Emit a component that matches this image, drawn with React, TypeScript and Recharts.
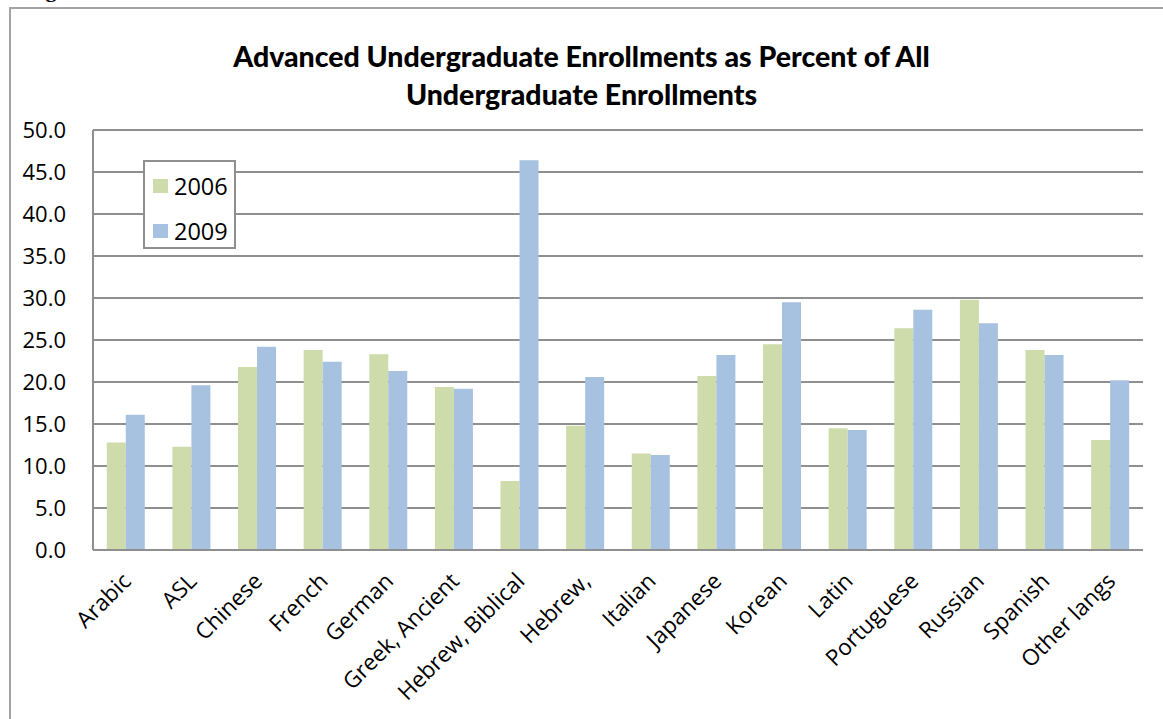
import React from 'react';
import { BarChart, Bar, XAxis, YAxis, CartesianGrid, Legend } from 'recharts';

const languages = [
  'Arabic', 'ASL', 'Chinese', 'French', 'German', 'Greek, Ancient', 'Hebrew, Biblical', 'Hebrew,',
  'Italian', 'Japanese', 'Korean', 'Latin', 'Portuguese', 'Russian', 'Spanish', 'Other langs',
];
const pct2006 = [12.8, 12.3, 21.8, 23.8, 23.3, 19.4, 8.2, 14.8, 11.5, 20.7, 24.5, 14.5, 26.4, 29.8, 23.8, 13.1];
const pct2009 = [16.1, 19.6, 24.2, 22.4, 21.3, 19.2, 46.4, 20.6, 11.3, 23.2, 29.5, 14.3, 28.6, 27.0, 23.2, 20.2];
const yTicks = [0, 5, 10, 15, 20, 25, 30, 35, 40, 45, 50];

const GREEN = '#cddcaa';
const BLUE = '#a7c1e0';
const GRID = '#8f8f8f';
const FONT = '"Open Sans", sans-serif';

const data = languages.map((name, i) => ({ name, y2006: pct2006[i], y2009: pct2009[i] }));

function LangTick({ x, y, payload }: any) {
  const ax = x + 1;
  return (
    <text
      x={ax}
      y={y}
      dy="0.35em"
      textAnchor="end"
      transform={`rotate(-45, ${ax}, ${y})`}
      fontSize={22.5}
      fontFamily={FONT}
      fill="#000"
    >
      {payload.value}
    </text>
  );
}

function LegendBox() {
  const items = [
    { label: '2006', color: GREEN },
    { label: '2009', color: BLUE },
  ];
  return (
    <div
      style={{
        width: 89,
        height: 85,
        border: `2px solid ${GRID}`,
        background: '#fff',
        fontFamily: FONT,
        fontSize: 23.5,
        boxSizing: 'content-box',
      }}
    >
      {items.map((it, i) => (
        <div key={it.label} style={{ display: 'flex', alignItems: 'center', height: 30, marginTop: i === 0 ? 9 : 15, paddingLeft: 8 }}>
          <span style={{ width: 15, height: 14, background: it.color, display: 'inline-block', marginRight: 6 }} />
          <span>{it.label}</span>
        </div>
      ))}
    </div>
  );
}

export default function App() {
  return (
    <div style={{ position: 'fixed', left: 0, top: 0, width: 1163, height: 719, overflow: 'hidden', background: '#fff' }}>
      {/* caption of the page above, cut off by the crop */}
      <div
        style={{
          position: 'absolute',
          left: 26,
          top: -22,
          fontFamily: '"Liberation Serif", serif',
          fontWeight: 'bold',
          fontSize: 22,
          lineHeight: '24px',
        }}
      >
        Figure
      </div>
      <div
        style={{
          position: 'absolute',
          left: 9,
          top: 7,
          width: 1300,
          height: 900,
          border: '2px solid #a3a3a3',
        }}
      />
      <div
        style={{
          position: 'absolute',
          left: 0,
          width: 1163,
          top: 37,
          textAlign: 'center',
          fontFamily: 'Lato, sans-serif',
          fontWeight: 900,
          fontSize: 28.5,
          lineHeight: '38px',
          color: '#000',
        }}
      >
        Advanced Undergraduate Enrollments as Percent of All
        <br />
        Undergraduate Enrollments
      </div>
      <div style={{ position: 'absolute', left: 0, top: 0 }}>
        <BarChart
          width={1163}
          height={719}
          data={data}
          margin={{ top: 130, right: 20, left: 10, bottom: 9 }}
          barCategoryGap="21%"
          barGap={0}
        >
          <CartesianGrid vertical={false} stroke={GRID} strokeWidth={2} />
          <XAxis
            dataKey="name"
            interval={0}
            height={160}
            tickLine={false}
            tickSize={0}
            tickMargin={27}
            axisLine={{ stroke: GRID, strokeWidth: 2 }}
            tick={<LangTick />}
          />
          <YAxis
            width={83}
            domain={[0, 50]}
            ticks={yTicks}
            interval={0}
            tickLine={false}
            tickSize={0}
            tickMargin={27}
            axisLine={{ stroke: GRID, strokeWidth: 2 }}
            tickFormatter={(v: number) => v.toFixed(1)}
            tick={{ fontSize: 22, fontFamily: FONT, fill: '#000' }}
          />
          <Legend
            layout="horizontal"
            verticalAlign="middle"
            align="center"
            content={<LegendBox />}
            wrapperStyle={{ left: 143, top: 160, width: 93, height: 89 }}
          />
          <Bar dataKey="y2006" name="2006" fill={GREEN} isAnimationActive={false} />
          <Bar dataKey="y2009" name="2009" fill={BLUE} isAnimationActive={false} />
        </BarChart>
      </div>
    </div>
  );
}
